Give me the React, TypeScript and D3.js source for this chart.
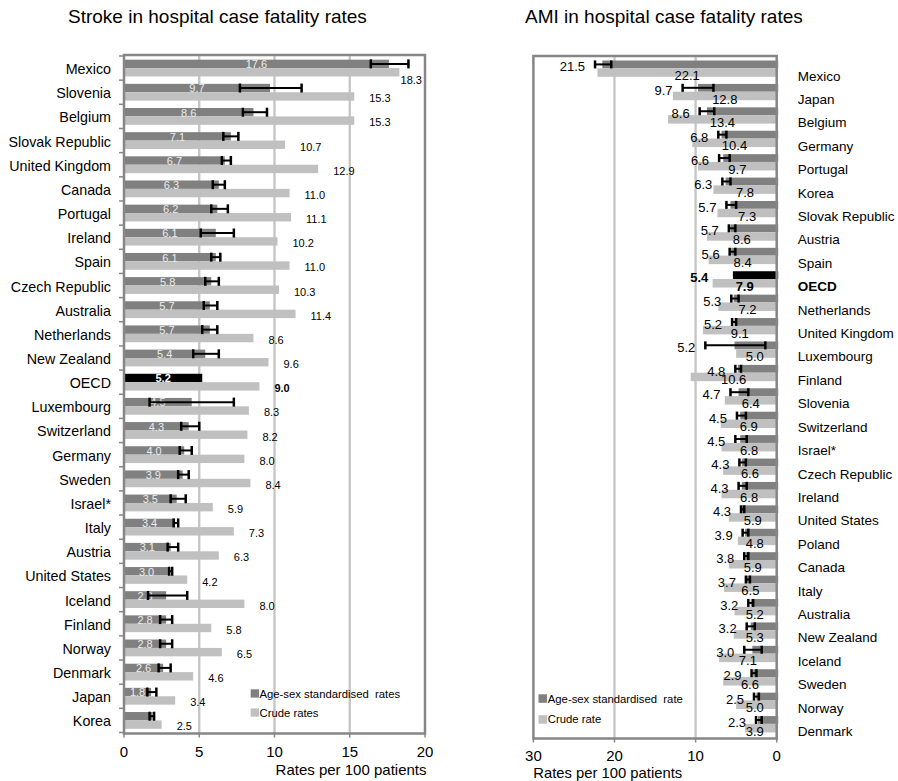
import React from "react";
import * as d3 from "d3";

// ---- Stroke: in-hospital case fatality (left panel) ----
const strokeCountries = [
  "Mexico", "Slovenia", "Belgium", "Slovak Republic", "United Kingdom", "Canada",
  "Portugal", "Ireland", "Spain", "Czech Republic", "Australia", "Netherlands",
  "New Zealand", "OECD", "Luxembourg", "Switzerland", "Germany", "Sweden", "Israel*",
  "Italy", "Austria", "United States", "Iceland", "Finland", "Norway", "Denmark",
  "Japan", "Korea",
];
const strokeStd = [
  17.6, 9.7, 8.6, 7.1, 6.7, 6.3, 6.2, 6.1, 6.1, 5.8, 5.7, 5.7, 5.4, 5.2, 4.5, 4.3,
  4.0, 3.9, 3.5, 3.4, 3.1, 3.0, 2.8, 2.8, 2.8, 2.6, 1.8, 1.9,
];
const strokeCrude = [
  18.3, 15.3, 15.3, 10.7, 12.9, 11.0, 11.1, 10.2, 11.0, 10.3, 11.4, 8.6, 9.6, 9.0,
  8.3, 8.2, 8.0, 8.4, 5.9, 7.3, 6.3, 4.2, 8.0, 5.8, 6.5, 4.6, 3.4, 2.5,
];
const strokeLow = [
  16.4, 7.7, 7.9, 6.6, 6.5, 5.9, 5.8, 5.1, 5.8, 5.4, 5.3, 5.2, 4.6, null, 1.7, 3.8,
  3.7, 3.6, 3.1, 3.3, 2.9, 3.0, 1.6, 2.4, 2.4, 2.3, 1.55, 1.7,
];
const strokeHigh = [
  18.9, 11.8, 9.5, 7.6, 7.1, 6.7, 6.9, 7.3, 6.4, 6.3, 6.2, 6.2, 6.3, null, 7.3, 5.0,
  4.5, 4.3, 4.1, 3.6, 3.6, 3.2, 4.2, 3.2, 3.2, 3.1, 2.15, 2.0,
];
const strokeUnlabelled = ["Korea"];
const strokeTicks = [0, 5, 10, 15, 20];

// ---- AMI: in-hospital case fatality (right panel) ----
const amiCountries = [
  "Mexico", "Japan", "Belgium", "Germany", "Portugal", "Korea", "Slovak Republic",
  "Austria", "Spain", "OECD", "Netherlands", "United Kingdom", "Luxembourg", "Finland",
  "Slovenia", "Switzerland", "Israel*", "Czech Republic", "Ireland", "United States",
  "Poland", "Canada", "Italy", "Australia", "New Zealand", "Iceland", "Sweden",
  "Norway", "Denmark",
];
const amiStd = [
  21.5, 9.7, 8.6, 6.8, 6.6, 6.3, 5.7, 5.7, 5.6, 5.4, 5.3, 5.2, 5.2, 4.8, 4.7, 4.5,
  4.5, 4.3, 4.3, 4.3, 3.9, 3.8, 3.7, 3.2, 3.2, 3.0, 2.9, 2.5, 2.3,
];
const amiCrude = [
  22.1, 12.8, 13.4, 10.4, 9.7, 7.8, 7.3, 8.6, 8.4, 7.9, 7.2, 9.1, 5.0, 10.6, 6.4,
  6.9, 6.8, 6.6, 6.8, 5.9, 4.8, 5.9, 6.5, 5.2, 5.3, 7.1, 6.6, 5.0, 3.9,
];
const amiLow = [
  20.4, 7.8, 7.7, 6.2, 5.8, 5.7, 5.0, 5.1, 5.1, null, 4.7, 5.0, 1.4, 4.4, 3.5, 3.8,
  3.7, 3.8, 3.7, 4.0, 3.5, 3.5, 3.3, 2.9, 2.7, 1.85, 2.5, 2.2, 1.85,
];
const amiHigh = [
  22.4, 11.6, 9.5, 7.2, 7.1, 6.7, 6.2, 5.9, 5.8, null, 5.6, 5.5, 8.8, 5.1, 5.7, 4.9,
  5.1, 4.6, 4.7, 4.4, 4.2, 4.0, 3.8, 3.5, 3.7, 4.0, 3.1, 2.8, 2.55,
];
const amiTicks = [30, 20, 10, 0];

const FONT = "'Liberation Sans', Arial, Helvetica, sans-serif";
const DARK = "#808080";
const LIGHT = "#c0c0c0";
const FRAME = "#868686";
const GRID = "#c4c4c4";

function ErrorBar({ x1, x2, y, cap }: { x1: number; x2: number; y: number; cap: number }) {
  return (
    <g stroke="#000">
      <line x1={x1} x2={x2} y1={y} y2={y} strokeWidth={2} />
      <line x1={x1} x2={x1} y1={y - cap / 2} y2={y + cap / 2} strokeWidth={2.5} />
      <line x1={x2} x2={x2} y1={y - cap / 2} y2={y + cap / 2} strokeWidth={2.5} />
    </g>
  );
}

function StrokePanel() {
  const left = 124;
  const right = 425;
  const top = 55;
  const bottom = 733.5;
  const x = d3.scaleLinear().domain([0, 20]).range([left, right]);
  const y = d3.scaleBand().domain(strokeCountries).range([56, 732.5]);
  const bw = y.bandwidth();
  const barH = 8.4;
  const boundaries = d3.range(strokeCountries.length + 1).map((i) => 56 + i * bw);

  return (
    <g fontFamily={FONT}>
      <text x={68} y={22.5} fontSize={19} fill="#000">
        Stroke in hospital case fatality rates
      </text>

      {strokeTicks.slice(1, -1).map((t) => (
        <line key={t} x1={x(t)} x2={x(t)} y1={top} y2={bottom} stroke={GRID} strokeWidth={2.3} />
      ))}

      {strokeCountries.map((c, i) => {
        const mid = (y(c) as number) + bw / 2;
        const isOecd = c === "OECD";
        const std = strokeStd[i];
        const crude = strokeCrude[i];
        const lo = strokeLow[i];
        const hi = strokeHigh[i];
        // crude label sits right of the bar; if it would run past the frame, tuck it below
        let lx = x(crude) + 15;
        let anchor: "start" | "end" = "start";
        let ly = mid + barH / 2 + 2;
        if (lx + 22 > right - 3) {
          lx = right - 3;
          anchor = "end";
          ly = mid + barH / 2 + 7.5;
        }
        return (
          <g key={c}>
            <rect x={x(0)} y={mid - barH} width={x(std) - x(0)} height={barH} fill={isOecd ? "#000" : DARK} />
            <rect x={x(0)} y={mid} width={x(crude) - x(0)} height={barH} fill={LIGHT} />
            {!strokeUnlabelled.includes(c) && (
              <text
                x={x(std / 2)}
                y={mid - barH / 2 + 0.5}
                dy="0.35em"
                textAnchor="middle"
                fontSize={11}
                fontWeight={isOecd ? "bold" : "normal"}
                fill={isOecd ? "#fff" : "#ececec"}
              >
                {std.toFixed(1)}
              </text>
            )}
            {lo != null && hi != null && (
              <ErrorBar x1={x(lo)} x2={x(hi)} y={mid - barH / 2} cap={9} />
            )}
            <text
              x={lx}
              y={ly}
              dy="0.35em"
              textAnchor={anchor}
              fontSize={11}
              fontWeight={isOecd ? "bold" : "normal"}
              fill="#000"
            >
              {crude.toFixed(1)}
            </text>
            <text
              x={111}
              y={mid + 1}
              dy="0.35em"
              textAnchor="end"
              fontSize={14.3}
              fill="#000"
            >
              {c}
            </text>
          </g>
        );
      })}

      {boundaries.map((b, i) => (
        <line key={i} x1={left - 5} x2={left} y1={b} y2={b} stroke={FRAME} strokeWidth={1.5} />
      ))}
      <rect x={left} y={top} width={right - left} height={bottom - top} fill="none" stroke={FRAME} strokeWidth={2.5} />

      {strokeTicks.map((t) => (
        <g key={t}>
          <line x1={x(t)} x2={x(t)} y1={bottom} y2={bottom + 4} stroke={FRAME} strokeWidth={1.5} />
          <text x={x(t)} y={756.5} textAnchor="middle" fontSize={15} fill="#000">
            {t}
          </text>
        </g>
      ))}
      <text x={426.5} y={775} textAnchor="end" fontSize={15} fill="#000">
        Rates per 100 patients
      </text>

      <rect x={250.7} y={689.3} width={8.3} height={8.3} fill={DARK} />
      <text x={259.5} y={693.6} dy="0.35em" fontSize={11.3} style={{ whiteSpace: "pre" }}>
        {"Age-sex standardised  rates"}
      </text>
      <rect x={250.7} y={708.4} width={8.3} height={8.3} fill={LIGHT} />
      <text x={259.5} y={712.6} dy="0.35em" fontSize={11.3}>
        Crude rates
      </text>
    </g>
  );
}

function AmiPanel() {
  const left = 533.4;
  const right = 776.7;
  const top = 56;
  const bottom = 738.5;
  const x = d3.scaleLinear().domain([0, 30]).range([right, left]);
  const y = d3.scaleBand().domain(amiCountries).range([56.6, 735.6]);
  const bw = y.bandwidth();
  const darkH = 7.8;
  const crudeH = 8.5;

  return (
    <g fontFamily={FONT}>
      <text x={525} y={22.5} fontSize={19} fill="#000">
        AMI in hospital case fatality rates
      </text>

      {[10, 20].map((t) => (
        <line key={t} x1={x(t)} x2={x(t)} y1={top} y2={bottom} stroke={GRID} strokeWidth={2.3} />
      ))}

      {amiCountries.map((c, i) => {
        const mid = (y(c) as number) + bw / 2;
        const isOecd = c === "OECD";
        const std = amiStd[i];
        const crude = amiCrude[i];
        const lo = amiLow[i];
        const hi = amiHigh[i];
        const labelEnd = x(hi != null ? hi : std + 1.8) - 10;
        return (
          <g key={c}>
            <rect x={x(std)} y={mid - darkH} width={x(0) - x(std) + 1.5} height={darkH} fill={isOecd ? "#000" : DARK} />
            <rect x={x(crude)} y={mid} width={x(0) - x(crude)} height={crudeH} fill={LIGHT} />
            {lo != null && hi != null && (
              <ErrorBar x1={x(hi)} x2={x(lo)} y={mid - darkH / 2} cap={8} />
            )}
            <text
              x={labelEnd}
              y={mid - darkH / 2 + 2.5}
              dy="0.35em"
              textAnchor="end"
              fontSize={13}
              fontWeight={isOecd ? "bold" : "normal"}
              fill="#000"
            >
              {std.toFixed(1)}
            </text>
            <text
              x={x(Math.max(crude / 2, 2.7))}
              y={mid + crudeH / 2 + 3}
              dy="0.35em"
              textAnchor="middle"
              fontSize={13}
              fontWeight={isOecd ? "bold" : "normal"}
              fill="#000"
            >
              {crude.toFixed(1)}
            </text>
            <text
              x={797.7}
              y={mid + 7.5}
              dy="0.35em"
              fontSize={13.5}
              fontWeight={isOecd ? "bold" : "normal"}
              fill="#000"
            >
              {c}
            </text>
          </g>
        );
      })}

      <rect x={left} y={top} width={right - left} height={bottom - top} fill="none" stroke={FRAME} strokeWidth={2.5} />

      {amiTicks.map((t) => (
        <g key={t}>
          <line x1={x(t)} x2={x(t)} y1={bottom} y2={bottom + 4} stroke={FRAME} strokeWidth={1.5} />
          <text x={x(t)} y={760.5} textAnchor="middle" fontSize={15} fill="#000">
            {t}
          </text>
        </g>
      ))}
      <text x={533.3} y={778} fontSize={14.8} fill="#000">
        Rates per 100 patients
      </text>

      <rect x={538.5} y={694.3} width={8.5} height={8.5} fill={DARK} />
      <text x={547.8} y={698.6} dy="0.35em" fontSize={11.3} style={{ whiteSpace: "pre" }}>
        {"Age-sex standardised  rate"}
      </text>
      <rect x={538.5} y={715.2} width={8.5} height={8.5} fill={LIGHT} />
      <text x={547.8} y={719.5} dy="0.35em" fontSize={11.3}>
        Crude rate
      </text>
    </g>
  );
}

export default function App() {
  return (
    <svg
      width={898}
      height={781}
      viewBox="0 0 898 781"
      style={{ position: "absolute", left: 0, top: 0, background: "#fff", display: "block" }}
    >
      <rect x={0} y={0} width={898} height={781} fill="#fff" />
      <StrokePanel />
      <AmiPanel />
    </svg>
  );
}
